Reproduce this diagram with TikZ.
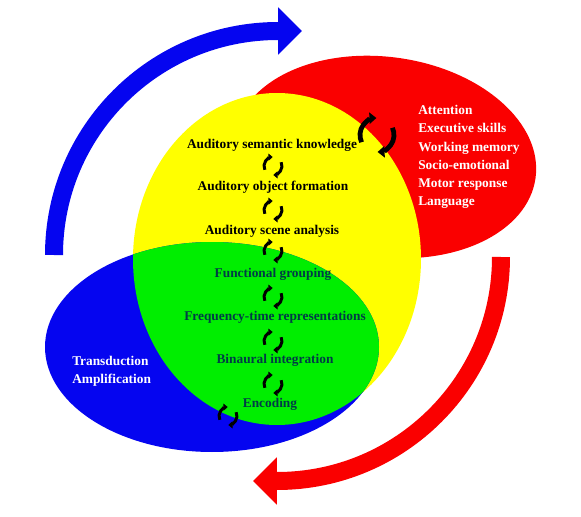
\documentclass[tikz,border=0pt]{standalone}
\usepackage{fontspec}
\setmainfont{Liberation Serif}
\usetikzlibrary{arrows.meta}
\definecolor{cogred}{RGB}{250,0,0}
\definecolor{stageyellow}{RGB}{255,255,0}
\definecolor{stagegreen}{RGB}{0,238,0}
\definecolor{periphblue}{RGB}{5,5,240}
\definecolor{tealtext}{RGB}{0,60,70}
\begin{document}
\begin{tikzpicture}[x=0.025cm, y=0.025cm,
	stage/.style={font=\bfseries\fontsize{9.5}{13}\selectfont, align=center, inner sep=0pt},
	bigarrow/.style={line width=12.8pt, -{Triangle[length=17pt, width=32.7pt]}},
	linkline/.style={line width=2.1pt, -{Triangle[length=3pt, width=5pt]}},
	linkpair/.pic={
		\draw[linkline] (205:1) arc[start angle=205, end angle=92, radius=1];
		\draw[linkline] (25:1) arc[start angle=25, end angle=-88, radius=1];
	}]
	\useasboundingbox (0,0) rectangle (581,516);
	% the three levels
	\fill[cogred, rotate around={-8:(385,359)}] (385,359) ellipse [x radius=152, y radius=100];
	\fill[stageyellow] (277,257) ellipse [x radius=144, y radius=166];
	\fill[periphblue] (212,169) ellipse [x radius=167, y radius=105];
	\begin{scope}
		\clip (277,257) ellipse [x radius=144, y radius=166];
		\fill[stagegreen] (212,169) ellipse [x radius=167, y radius=105];
	\end{scope}
	% feedforward and feedback
	\draw[bigarrow, draw=periphblue] (54,261) arc[start angle=180, end angle=90, radius=224] -- (302,485);
	\draw[bigarrow, draw=cogred] (501,259) arc[start angle=0, end angle=-90, radius=224] -- (253,35);
	% stages
	\node[stage] (sem) at (272,371) {Auditory semantic knowledge};
	\node[stage] (obj) at (273,329) {Auditory object formation};
	\node[stage] (scene) at (272,285) {Auditory scene analysis};
	\node[stage, text=tealtext] (group) at (273,242) {Functional grouping};
	\node[stage, text=tealtext] (freq) at (275,199) {Frequency-time representations};
	\node[stage, text=tealtext] (binaur) at (275,156) {Binaural integration};
	\node[stage, text=tealtext] (enc) at (270,112) {Encoding};
	\node[stage, text=white, align=left, anchor=west] (cog) at (418,359) {Attention\\Executive skills\\Working memory\\Socio-emotional\\Motor response\\Language};
	\node[stage, text=white, align=left, anchor=west] (periph) at (72,145) {Transduction\\Amplification};
	% links between stages
	\foreach \y in {350,306,265,219,175,132}
		\pic[scale=9] at (273,\y) {linkpair};
	\pic[scale=9] at (228,100) {linkpair};
	\pic[scale=17, linkline/.style={line width=3.4pt, -{Triangle[length=5pt, width=8pt]}}] at (377,381) {linkpair};
\end{tikzpicture}
\end{document}
